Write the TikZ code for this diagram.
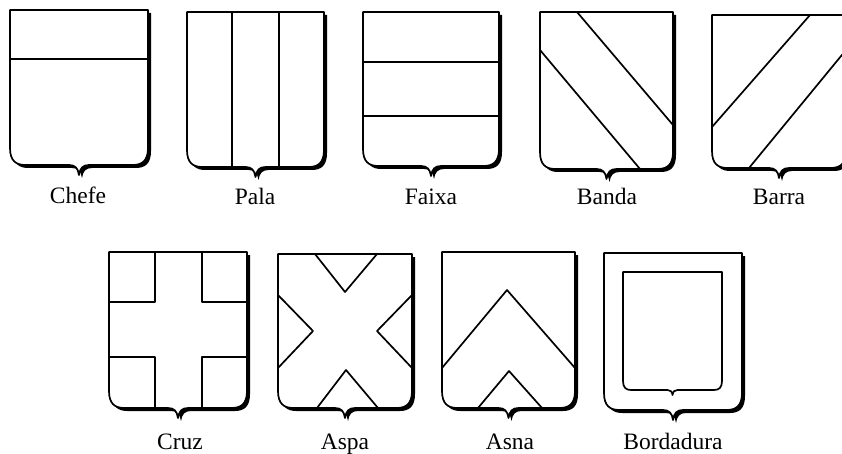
\documentclass[tikz,border=0pt]{standalone}
\usepackage{fontspec}
\setmainfont{Liberation Serif}
\usetikzlibrary{calc}
\newcommand\shieldpath[6]{% L T R B corner tip
 (#1,#2) -- (#3,#2) -- (#3,{#4-#5}) .. controls (#3,{#4-0.25*#5}) and ({#3-0.35*#5},#4) .. ({#3-0.9*#5},#4)
 -- ({(#1+#3)/2+#6},#4) .. controls ({(#1+#3)/2+0.4*#6},#4) and ({(#1+#3)/2+0.1*#6},{#4+0.3*#6}) .. ({(#1+#3)/2},{#4+#6})
 .. controls ({(#1+#3)/2-0.1*#6},{#4+0.3*#6}) and ({(#1+#3)/2-0.4*#6},#4) .. ({(#1+#3)/2-#6},#4)
 -- ({#1+0.9*#5},#4) .. controls ({#1+0.35*#5},#4) and (#1,{#4-0.25*#5}) .. (#1,{#4-#5}) -- cycle}
\newcommand\shield[4]{%
 \fill[black,shift={(3,3)}] \shieldpath{#1}{#2}{#3}{#4}{17}{10};
 \filldraw[shieldline,fill=white] \shieldpath{#1}{#2}{#3}{#4}{17}{10};}
\begin{document}
\begin{tikzpicture}[x=1pt,y=-1pt,
  shieldline/.style={line width=1.7pt,line join=round},
  lbl/.style={anchor=base,font=\fontsize{23.5}{26}\selectfont,inner sep=0pt}]
\path[use as bounding box] (0,0) rectangle (842,454);
\clip (0,0) rectangle (842,454);
\fill[white] (0,0) rectangle (842,454);
% Chefe
\shield{10}{10}{148}{165}
\draw[shieldline] (10,59) -- (148,59);
\node[lbl] (chefe) at (78,204) {Chefe};
% Pala
\shield{187}{12}{324}{167}
\draw[shieldline] (232,12) -- (232,167) (279,12) -- (279,167);
\node[lbl] (pala) at (255,205) {Pala};
% Faixa
\shield{363}{12}{499}{166}
\draw[shieldline] (363,62) -- (499,62) (363,116) -- (499,116);
\node[lbl] (faixa) at (431,205) {Faixa};
% Banda
\shield{540}{12}{673}{169}
\draw[shieldline] (577,12) -- (673,125) (540,50) -- (640,169);
\node[lbl] (banda) at (607,205) {Banda};
% Barra
\shield{712}{15}{846}{168}
\draw[shieldline] (810,15) -- (712,127) (846,50) -- (749,168);
\node[lbl] (barra) at (779,205) {Barra};
% Cruz
\shield{109}{252}{247}{408}
\draw[shieldline] (109,302) -- (155,302) -- (155,252)
  (247,302) -- (202,302) -- (202,252)
  (109,357) -- (155,357) -- (155,408)
  (247,357) -- (202,357) -- (202,408);
\node[lbl] (cruz) at (180,449) {Cruz};
% Aspa
\shield{278}{254}{412}{408}
\draw[shieldline] (315,254) -- (345,292) -- (377,254)
  (278,295) -- (313,331) -- (278,368)
  (412,295) -- (377,331) -- (412,368)
  (317,408) -- (346,370) -- (378,408);
\node[lbl] (aspa) at (345,449) {Aspa};
% Asna
\shield{442}{252}{575}{408}
\draw[shieldline] (442,368) -- (507,290) -- (575,368)
  (478,408) -- (509,371) -- (542,408);
\node[lbl] (asna) at (510,449) {Asna};
% Bordadura
\shield{604}{253}{742}{410}
\draw[shieldline] \shieldpath{623}{272}{722}{390}{9}{5};
\node[lbl] (bordadura) at (673,449) {Bordadura};
\end{tikzpicture}
\end{document}
